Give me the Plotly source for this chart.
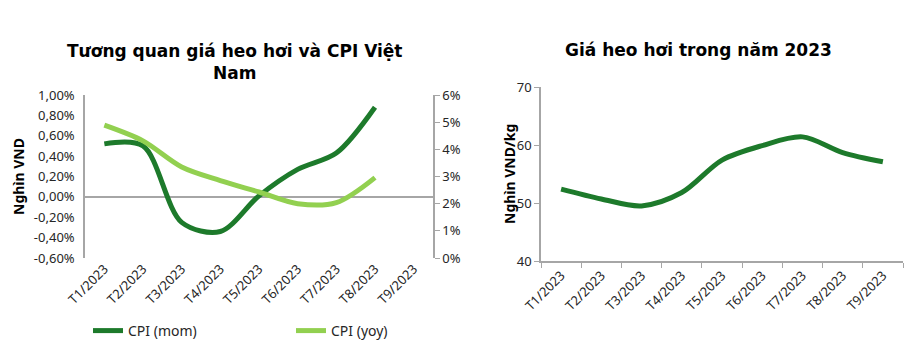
import plotly.graph_objects as go

W, H = 914, 351

months = ["T1/2023", "T2/2023", "T3/2023", "T4/2023", "T5/2023",
          "T6/2023", "T7/2023", "T8/2023", "T9/2023"]
cpi_months = months[:8]
cpi_mom = [0.0052, 0.0050, -0.0025, -0.0034, 0.0001, 0.0027, 0.0043, 0.0088]
cpi_yoy = [0.0489, 0.0431, 0.0335, 0.0285, 0.0243, 0.0200, 0.0204, 0.0296]
pig_price = [52.4, 50.7, 49.5, 51.8, 57.4, 59.9, 61.4, 58.7, 57.1]

left_ticks = [0.01, 0.008, 0.006, 0.004, 0.002, 0.0, -0.002, -0.004, -0.006]
left_ticktext = ["1,00%", "0,80%", "0,60%", "0,40%", "0,20%", "0,00%",
                 "-0,20%", "-0,40%", "-0,60%"]
right_ticks = [0, 0.01, 0.02, 0.03, 0.04, 0.05, 0.06]
right_ticktext = ["0%", "1%", "2%", "3%", "4%", "5%", "6%"]

DARK = "#1d7a2b"
LIGHT = "#92d050"
AX = "#a6a6a6"
TXT = "#262626"
FONT = "Noto Sans"
TFONT = "DejaVu Sans"
SM = 0.9


def px(x):
    return x / W


def py(y):
    return 1 - y / H


fig = go.Figure()
fig.add_trace(go.Scatter(x=cpi_months, y=cpi_mom, name="CPI (mom)", mode="lines",
                         line=dict(color=DARK, width=5, shape="spline", smoothing=SM),
                         xaxis="x", yaxis="y"))
fig.add_trace(go.Scatter(x=cpi_months, y=cpi_yoy, name="CPI (yoy)", mode="lines",
                         line=dict(color=LIGHT, width=5, shape="spline", smoothing=SM),
                         xaxis="x", yaxis="y2"))
fig.add_trace(go.Scatter(x=months, y=pig_price, name="Giá heo hơi", mode="lines",
                         line=dict(color=DARK, width=5, shape="spline", smoothing=SM),
                         xaxis="x3", yaxis="y3", showlegend=False))

tickfont = dict(family=FONT, size=13, color=TXT)

fig.update_layout(
    width=W, height=H,
    margin=dict(l=0, r=0, t=0, b=0),
    paper_bgcolor="white", plot_bgcolor="white",
    showlegend=True,
    legend=dict(orientation="h", x=px(88), y=py(331), yanchor="middle", xanchor="left",
                font=dict(family=FONT, size=14, color=TXT),
                entrywidth=158, entrywidthmode="pixels", bgcolor="rgba(0,0,0,0)"),
    xaxis=dict(domain=[px(85), px(433)], anchor="y", type="category",
               categoryorder="array", categoryarray=months, range=[-0.5, 8.5],
               showline=False, ticks="", showgrid=False, tickangle=-45,
               tickfont=tickfont, fixedrange=True, automargin=False),
    yaxis=dict(domain=[py(258), py(95)], anchor="x", range=[-0.006, 0.01],
               tickvals=left_ticks, ticktext=left_ticktext, showgrid=False,
               showline=True, linecolor=AX, linewidth=1.5, ticks="",
               zeroline=True, zerolinecolor=AX, zerolinewidth=1.5,
               tickfont=tickfont, ticklabelstandoff=6, automargin=False),
    yaxis2=dict(anchor="x", overlaying="y", side="right", range=[0, 0.06],
                tickvals=right_ticks, ticktext=right_ticktext, showgrid=False,
                showline=True, linecolor=AX, linewidth=1.5, ticks="outside",
                ticklen=5, tickcolor=AX, zeroline=False, tickfont=tickfont,
                automargin=False),
    xaxis3=dict(domain=[px(541), px(903)], anchor="y3", type="category",
                categoryorder="array", categoryarray=months, range=[-0.5, 8.5],
                showline=True, linecolor=AX, linewidth=1.5, ticks="outside",
                tickson="boundaries", ticklen=5, tickcolor=AX, showgrid=False,
                tickangle=-45, tickfont=tickfont, automargin=False),
    yaxis3=dict(domain=[py(261), py(87)], anchor="x3", range=[40, 70], dtick=10,
                showline=True, linecolor=AX, linewidth=1.5, ticks="outside",
                ticklen=5, tickcolor=AX, showgrid=False, zeroline=False,
                tickfont=tickfont, automargin=False),
    annotations=[
        dict(text="<b>Tương quan giá heo hơi và CPI Việt<br>Nam</b>", x=px(234), y=py(62),
             xref="paper", yref="paper", showarrow=False, xanchor="center", yanchor="middle",
             font=dict(family=TFONT, size=17, color="black"), align="center"),
        dict(text="<b>Giá heo hơi trong năm 2023</b>", x=px(698), y=py(50),
             xref="paper", yref="paper", showarrow=False, xanchor="center", yanchor="middle",
             font=dict(family=TFONT, size=17, color="black")),
        dict(text="<b>Nghìn VND</b>", x=px(18), y=py(177), xref="paper", yref="paper",
             showarrow=False, textangle=-90, xanchor="center", yanchor="middle",
             font=dict(family=FONT, size=14, color="black")),
        dict(text="<b>Nghìn VND/kg</b>", x=px(509), y=py(174), xref="paper", yref="paper",
             showarrow=False, textangle=-90, xanchor="center", yanchor="middle",
             font=dict(family=FONT, size=14, color="black")),
    ],
)

fig.write_html("out.html")
